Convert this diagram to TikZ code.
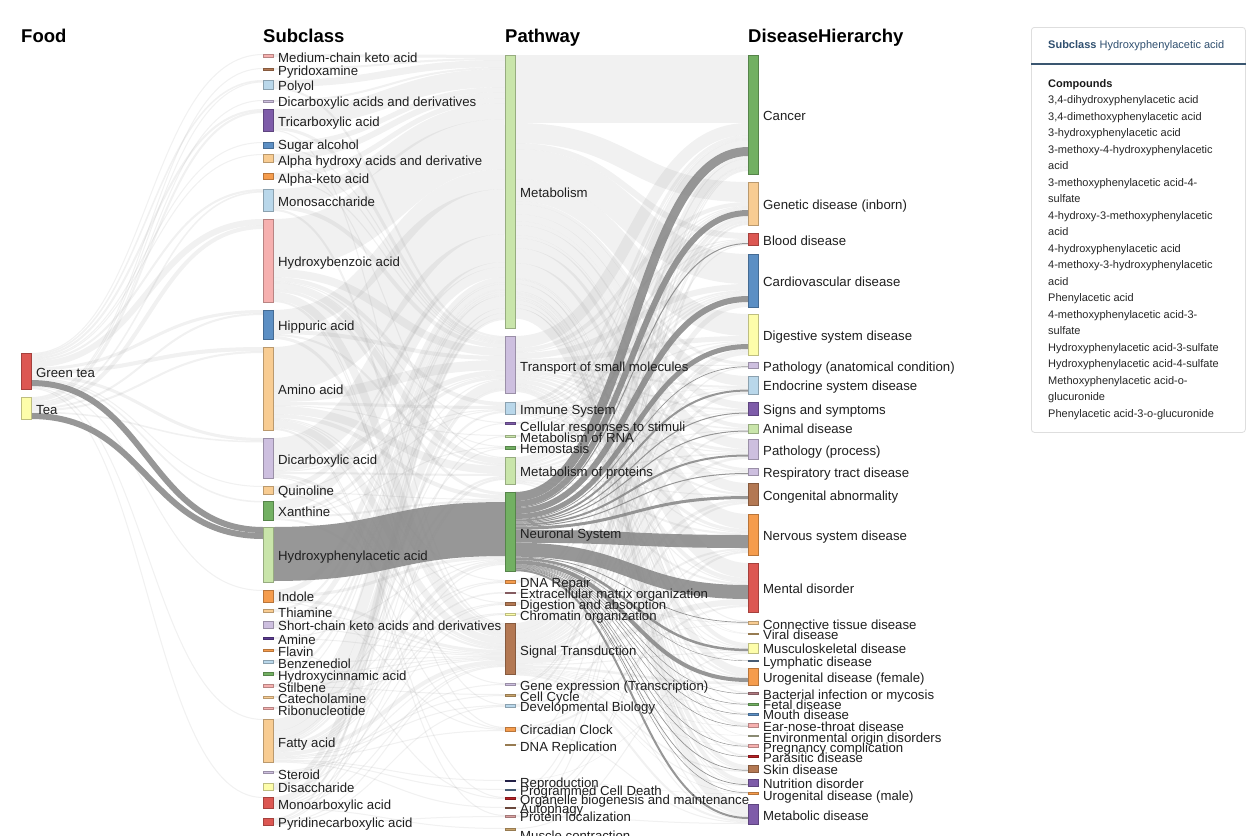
\documentclass[tikz,border=0pt]{standalone}
\usepackage{fontspec}
\setmainfont{Liberation Sans}
\pgfdeclarelayer{front}
\pgfsetlayers{main,front}
\definecolor{cLB}{HTML}{B9D7EA}
\definecolor{cBL}{HTML}{5C8FC4}
\definecolor{cLG}{HTML}{C9E5AA}
\definecolor{cGR}{HTML}{72B062}
\definecolor{cPK}{HTML}{F6B0AF}
\definecolor{cRD}{HTML}{DC5752}
\definecolor{cLO}{HTML}{F8CC92}
\definecolor{cOR}{HTML}{F59C4D}
\definecolor{cLP}{HTML}{CDBFDF}
\definecolor{cPU}{HTML}{7E5CA9}
\definecolor{cYE}{HTML}{FDFDAA}
\definecolor{cBR}{HTML}{B37853}
\definecolor{cTN}{HTML}{C9A46C}
\definecolor{cSL}{HTML}{5D7A9B}
\definecolor{cNV}{HTML}{2E2A5E}
\definecolor{cDR}{HTML}{B52024}
\definecolor{cMV}{HTML}{B07A80}
\definecolor{cDP}{HTML}{5B3A92}
\definecolor{cAB}{HTML}{8E5F4F}
\definecolor{cPL}{HTML}{D9A0A0}
\definecolor{cEV}{HTML}{B8B89A}
\definecolor{panelhd}{HTML}{2F4F6F}
\definecolor{panelln}{HTML}{3A5670}
\tikzset{
  sk/.style={rectangle, line width=0.6pt, minimum width=10pt, inner sep=0pt, outer sep=0pt},
  lab/.style={anchor=west, inner sep=0pt, font=\fontsize{13.2}{15}\selectfont, text height=9.4pt, text depth=0pt, text=black!88},
  hd/.style={anchor=base west, inner sep=0pt, font=\fontsize{18.5}{22}\selectfont\bfseries},
  lt/.style={draw=black!45, draw opacity=0.12},
  dk/.style={draw=black!48, draw opacity=0.85},
  ptx/.style={anchor=west, inner sep=0pt, font=\fontsize{11}{13}\selectfont, text height=7.9pt, text depth=0pt, text=black!85},
}
% node: name, x, ytop, ybot, colour, label, label y
\newcommand\SK[7]{%
  \expandafter\xdef\csname skx-#1\endcsname{#2}%
  \expandafter\xdef\csname sko-#1\endcsname{#3}%
  \expandafter\xdef\csname ski-#1\endcsname{#3}%
  \begin{pgfonlayer}{front}
    \node[sk, fill=#5, draw=#5!75!black, minimum height={(#4)-(#3)}, anchor=north west] (#1) at (#2,#3) {};
    \node[lab] (#1-l) at ({#2+15},#7) {#6};
  \end{pgfonlayer}}
% link: source, target, width, style
\newcommand\LK[4]{%
  \expandafter\let\expandafter\lkXa\csname skx-#1\endcsname
  \expandafter\let\expandafter\lkXb\csname skx-#2\endcsname
  \expandafter\let\expandafter\lkYa\csname sko-#1\endcsname
  \expandafter\let\expandafter\lkYb\csname ski-#2\endcsname
  \pgfmathsetmacro\la{\lkXa+10}%
  \pgfmathsetmacro\lb{\lkXb}%
  \pgfmathsetmacro\lm{(\la+\lb)/2}%
  \pgfmathsetmacro\sa{\lkYa+#3/2}%
  \pgfmathsetmacro\ta{\lkYb+#3/2}%
  \pgfmathsetmacro\sn{\lkYa+#3}%
  \pgfmathsetmacro\tn{\lkYb+#3}%
  \expandafter\xdef\csname sko-#1\endcsname{\sn}%
  \expandafter\xdef\csname ski-#2\endcsname{\tn}%
  \draw[#4, line width=#3pt] (\la,\sa) .. controls (\lm,\sa) and (\lm,\ta) .. (\lb,\ta);}
\newcommand\LKs[3]{\foreach \lkT/\lkW in {#3}{\LK{#1}{\lkT}{\lkW}{#2}}}
\begin{document}
\begin{tikzpicture}[x=1pt,y=-1pt]
\fill[white] (0,0) rectangle (1254,836);
\useasboundingbox (0,0) rectangle (1254,836);
% headers
\node[hd] (hFood) at (21,42.5) {Food};
\node[hd] (hSub) at (263,42.5) {Subclass};
\node[hd] (hPath) at (505,42.5) {Pathway};
\node[hd] (hDis) at (748,42.5) {DiseaseHierarchy};
% food
\SK{GT}{21}{353}{389}{cRD}{Green tea}{373}
\SK{Tea}{21}{397}{419}{cYE}{Tea}{410}
% subclass
\SK{MC}{263}{54}{57}{cPK}{Medium-chain keto acid}{58}
\SK{Pyr}{263}{68}{70}{cBR}{Pyridoxamine}{71}
\SK{Pol}{263}{80}{89}{cLB}{Polyol}{86}
\SK{DCD}{263}{100}{102}{cLP}{Dicarboxylic acids and derivatives}{101.5}
\SK{Tric}{263}{109}{131}{cPU}{Tricarboxylic acid}{122}
\SK{SugA}{263}{142}{148}{cBL}{Sugar alcohol}{145}
\SK{AHA}{263}{154}{162}{cLO}{Alpha hydroxy acids and derivative}{161}
\SK{AKA}{263}{173}{179}{cOR}{Alpha-keto acid}{179}
\SK{Mono}{263}{189}{211}{cLB}{Monosaccharide}{202}
\SK{HB}{263}{219}{302}{cPK}{Hydroxybenzoic acid}{262}
\SK{Hipp}{263}{310}{339}{cBL}{Hippuric acid}{326}
\SK{Amino}{263}{347}{430}{cLO}{Amino acid}{390}
\SK{DCA}{263}{438}{478}{cLP}{Dicarboxylic acid}{460}
\SK{Quin}{263}{486}{494}{cLO}{Quinoline}{491}
\SK{Xan}{263}{501}{520}{cGR}{Xanthine}{512}
\SK{HPA}{263}{527}{582}{cLG}{Hydroxyphenylacetic acid}{556}
\SK{Ind}{263}{590}{602}{cOR}{Indole}{597}
\SK{Thia}{263}{609}{612}{cLO}{Thiamine}{613}
\SK{Short}{263}{621}{628}{cLP}{Short-chain keto acids and derivatives}{626}
\SK{Amine}{263}{637}{639}{cDP}{Amine}{640}
\SK{Flav}{263}{649}{651}{cOR}{Flavin}{652}
\SK{Benz}{263}{660}{663}{cLB}{Benzenediol}{664}
\SK{HCA}{263}{672}{675}{cGR}{Hydroxycinnamic acid}{675.5}
\SK{Stil}{263}{684}{687}{cPK}{Stilbene}{687.5}
\SK{Cat}{263}{696}{698}{cLO}{Catecholamine}{699}
\SK{Ribo}{263}{707}{709}{cPK}{Ribonucleotide}{711}
\SK{FA}{263}{719}{762}{cLO}{Fatty acid}{743}
\SK{Ster}{263}{771}{773}{cLP}{Steroid}{775}
\SK{Disac}{263}{783}{790}{cYE}{Disaccharide}{788}
\SK{Monoa}{263}{797}{808}{cRD}{Monoarboxylic acid}{805}
\SK{Pyrc}{263}{818}{825}{cRD}{Pyridinecarboxylic acid}{823}
% pathway
\SK{Met}{505}{55}{328}{cLG}{Metabolism}{193}
\SK{Trans}{505}{336}{393}{cLP}{Transport of small molecules}{367}
\SK{Imm}{505}{402}{414}{cLB}{Immune System}{410}
\SK{Cell}{505}{422}{424}{cPU}{Cellular responses to stimuli}{427}
\SK{RNA}{505}{435}{437}{cLG}{Metabolism of RNA}{438}
\SK{Hemo}{505}{446}{449}{cGR}{Hemostasis}{449}
\SK{MProt}{505}{457}{484}{cLG}{Metabolism of proteins}{472}
\SK{Neur}{505}{492}{571}{cGR}{Neuronal System}{534}
\SK{DNAR}{505}{580}{583}{cOR}{DNA Repair}{583}
\SK{ECM}{505}{592}{593.5}{cMV}{Extracellular matrix organization}{594}
\SK{Dig}{505}{602}{605}{cBR}{Digestion and absorption}{605}
\SK{Chrom}{505}{613}{615}{cYE}{Chromatin organization}{616}
\SK{Sig}{505}{623}{674}{cBR}{Signal Transduction}{651}
\SK{Gene}{505}{683}{685}{cLP}{Gene expression (Transcription)}{686}
\SK{CellC}{505}{694}{696}{cTN}{Cell Cycle}{697}
\SK{Dev}{505}{704}{707}{cLB}{Developmental Biology}{707}
\SK{Circ}{505}{727}{731}{cOR}{Circadian Clock}{730}
\SK{DRep}{505}{744}{745}{cTN}{DNA Replication}{747}
\SK{Repro}{505}{780}{781}{cNV}{Reproduction}{783}
\SK{PCD}{505}{789}{790}{cSL}{Programmed Cell Death}{791}
\SK{Org}{505}{797}{799}{cDR}{Organelle biogenesis and maintenance}{800}
\SK{Auto}{505}{807}{808}{cAB}{Autophagy}{809}
\SK{ProtL}{505}{815}{817}{cPL}{Protein localization}{817}
\SK{MusC}{505}{828}{830}{cTN}{Muscle contraction}{836}
% disease
\SK{Cancer}{748}{55}{174}{cGR}{Cancer}{116}
\SK{Gen}{748}{182}{225}{cLO}{Genetic disease (inborn)}{205}
\SK{Blood}{748}{233}{245}{cRD}{Blood disease}{241}
\SK{Cardio}{748}{254}{307}{cBL}{Cardiovascular disease}{282}
\SK{Digs}{748}{314}{355}{cYE}{Digestive system disease}{336}
\SK{PAn}{748}{362}{368}{cLP}{Pathology (anatomical condition)}{367}
\SK{Endo}{748}{376}{394}{cLB}{Endocrine system disease}{386}
\SK{Signs}{748}{402}{415}{cPU}{Signs and symptoms}{410}
\SK{Anim}{748}{424}{433}{cLG}{Animal disease}{429}
\SK{PPr}{748}{439}{459}{cLP}{Pathology (process)}{451}
\SK{Resp}{748}{468}{475}{cLP}{Respiratory tract disease}{473}
\SK{Cong}{748}{483}{505}{cBR}{Congenital abnormality}{496}
\SK{Nerv}{748}{514}{555}{cOR}{Nervous system disease}{536}
\SK{Ment}{748}{563}{612}{cRD}{Mental disorder}{589}
\SK{Conn}{748}{621}{624}{cLO}{Connective tissue disease}{624.5}
\SK{Viral}{748}{633}{634}{cTN}{Viral disease}{635}
\SK{Musc}{748}{643}{653}{cYE}{Musculoskeletal disease}{648.5}
\SK{Lymph}{748}{660}{661}{cSL}{Lymphatic disease}{662}
\SK{UroF}{748}{668}{685}{cOR}{Urogenital disease (female)}{678}
\SK{Bact}{748}{692}{694}{cMV}{Bacterial infection or mycosis}{694.5}
\SK{Fetal}{748}{703}{705}{cGR}{Fetal disease}{704.5}
\SK{Mouth}{748}{713}{715}{cBL}{Mouth disease}{715}
\SK{ENT}{748}{723}{727}{cPK}{Ear-nose-throat disease}{727}
\SK{Env}{748}{735}{736}{cEV}{Environmental origin disorders}{738}
\SK{Preg}{748}{744}{747}{cPK}{Pregnancy complication}{747.5}
\SK{Paras}{748}{755}{757}{cDR}{Parasitic disease}{758}
\SK{Skin}{748}{765}{772}{cBR}{Skin disease}{770}
\SK{Nutr}{748}{779}{786}{cPU}{Nutrition disorder}{784}
\SK{UroM}{748}{792}{794}{cOR}{Urogenital disease (male)}{796}
\SK{Metab}{748}{804}{824}{cPU}{Metabolic disease}{816}
% ---- food -> subclass
\LKs{GT}{lt}{MC/1,Pol/1.5,Tric/2,SugA/1,AHA/1,Mono/2,HB/6,Hipp/3,Amino/4,DCA/3,Quin/1,Xan/1.5}
\LK{GT}{HPA}{6}{dk}
\LKs{GT}{lt}{Ind/1,FA/1,Monoa/1}
\LKs{Tea}{lt}{Pyr/1,Pol/1,DCD/1,Tric/2,Mono/1.5,HB/4,Hipp/2,Amino/2,DCA/1.5}
\LK{Tea}{HPA}{6}{dk}
% ---- subclass -> pathway
\LKs{MC}{lt}{Met/3}
\LKs{Pyr}{lt}{Met/2}
\LKs{Pol}{lt}{Met/7,Trans/2}
\LKs{DCD}{lt}{Met/2}
\LKs{Tric}{lt}{Met/18,Trans/3,Sig/1}
\LKs{SugA}{lt}{Met/5,Trans/1}
\LKs{AHA}{lt}{Met/6,Trans/1,MProt/1}
\LKs{AKA}{lt}{Met/5,Trans/1}
\LKs{Mono}{lt}{Met/16,Trans/4,Sig/2}
\LKs{HB}{lt}{Met/50,Trans/8,Imm/4,Cell/1,Hemo/1,MProt/6,Neur/3,Sig/8,Dev/1,Circ/1}
\LKs{Hipp}{lt}{Met/20,Trans/4,MProt/2,Sig/3}
\LKs{Amino}{lt}{Met/45,Trans/10,Imm/3,RNA/1,MProt/8,Neur/4,DNAR/1,Dig/1,Sig/7,Gene/1,Org/1,ProtL/1}
\LKs{DCA}{lt}{Met/28,Trans/5,Imm/1,MProt/2,Sig/3,Circ/1}
\LKs{Quin}{lt}{Met/5,Trans/1,Neur/1,Sig/1}
\LKs{Xan}{lt}{Met/10,Trans/3,Imm/1,Hemo/1,Neur/2,Sig/2}
\LK{HPA}{Neur}{54}{dk}
\LKs{Ind}{lt}{Met/5,Neur/3,Sig/3,Circ/1}
\LKs{Thia}{lt}{Met/2,Sig/1}
\LKs{Short}{lt}{Met/5,Trans/1,Sig/1}
\LKs{Amine}{lt}{Neur/1,Sig/1}
\LKs{Flav}{lt}{Met/1,Org/1}
\LKs{Benz}{lt}{Met/2,Sig/1}
\LKs{HCA}{lt}{Met/2,Sig/1}
\LKs{Stil}{lt}{Met/1,Sig/1,CellC/1}
\LKs{Cat}{lt}{Neur/1,Sig/1}
\LKs{Ribo}{lt}{Met/1,DNAR/1}
\LKs{FA}{lt}{Met/12,Trans/8,Imm/2,Cell/1,Hemo/1,MProt/2,Neur/3,DNAR/1,ECM/1.5,Dig/1,Chrom/1,Sig/4,CellC/1,Dev/1,Circ/1,Repro/1,PCD/1,Auto/1}
\LKs{Ster}{lt}{Sig/1,Gene/1}
\LKs{Disac}{lt}{Met/5,Trans/1,Dig/1}
\LKs{Monoa}{lt}{Met/5,Trans/2,MProt/1,Neur/1,Chrom/1,Sig/1,MusC/1}
\LKs{Pyrc}{lt}{Met/2,RNA/1,MProt/1,Sig/1,Dev/1,ProtL/1}
% ---- pathway -> disease
\LKs{Met}{lt}{Cancer/68,Gen/20,Blood/6,Cardio/30,Digs/22,PAn/3,Endo/10,Signs/7,Anim/4,PPr/10,Resp/3,Cong/10,Nerv/15,Ment/15,Conn/1,Viral/0.5,Musc/4,Lymph/0.6,UroF/7,Bact/1.5,Fetal/1,Mouth/1,ENT/2,Env/0.5,Preg/1.5,Paras/1.5,Skin/4,Nutr/4,UroM/0.5,Metab/10}
\LKs{Trans}{lt}{Cancer/12,Gen/4,Blood/1,Cardio/6,Digs/5,PAn/1,Endo/2,Signs/2,Anim/1.5,PPr/3,Resp/1,Cong/2,Nerv/3,Ment/4,Viral/0.5,Musc/1,UroF/2,ENT/0.5,Preg/0.5,Skin/1,Nutr/1,Metab/2}
\LKs{Imm}{lt}{Cancer/3,Gen/1,Blood/1,Cardio/1.5,Digs/1,Endo/0.5,Signs/0.5,PPr/1,Resp/0.5,Nerv/1,Ment/1,ENT/0.5}
\LKs{Cell}{lt}{Cancer/1,Cardio/1}
\LKs{RNA}{lt}{Cancer/1,Gen/1}
\LKs{Hemo}{lt}{Blood/1.5,Cardio/1.5}
\LKs{MProt}{lt}{Cancer/7,Gen/2,Blood/0.5,Cardio/2,Digs/2,PAn/0.3,Endo/1,Signs/1,Anim/1,PPr/1.5,Resp/0.5,Cong/1,Nerv/2,Ment/2,Musc/0.7,UroF/1,Nutr/0.3,Metab/1}
\LKs{Neur}{dk}{Cancer/9,Gen/6,Blood/1,Cardio/6,Digs/5,PAn/0.7,Endo/2,Signs/1,Anim/1,PPr/2,Resp/1,Cong/3,Nerv/13,Ment/14,Conn/0.7,Musc/2.5,Lymph/0.4,UroF/4,Bact/0.5,Fetal/0.5,Mouth/0.5,ENT/0.5,Preg/0.5,Paras/0.5,Skin/0.7,Nutr/0.7,UroM/0.5,Metab/2}
\LKs{DNAR}{lt}{Cancer/2,Gen/1}
\LKs{ECM}{lt}{Conn/0.7,Musc/0.8}
\LKs{Dig}{lt}{Digs/2,Metab/1}
\LKs{Chrom}{lt}{Cancer/1,Gen/1}
\LKs{Sig}{lt}{Cancer/7,Gen/3,Blood/1,Cardio/5,Digs/4,PAn/1,Endo/2.5,Signs/1.5,Anim/1.5,PPr/2.5,Resp/1,Cong/3,Nerv/2,Ment/6,Conn/0.6,Musc/1,UroF/2.5,Fetal/0.5,Mouth/0.5,ENT/0.5,Env/0.5,Preg/0.5,Skin/1.3,Nutr/1,UroM/0.5,Metab/2}
\LKs{Gene}{lt}{Cancer/1,Gen/1}
\LKs{CellC}{lt}{Cancer/2}
\LKs{Dev}{lt}{Gen/1,Cong/2}
\LKs{Circ}{lt}{Nerv/1,Ment/2,Metab/1}
\LKs{DRep}{lt}{Cancer/1}
\LKs{Repro}{lt}{UroF/0.5,UroM/0.5}
\LKs{PCD}{lt}{Cancer/1}
\LKs{Org}{lt}{Gen/1,Nerv/1}
\LKs{Auto}{lt}{Nerv/1}
\LKs{ProtL}{lt}{Gen/1,Metab/1}
\LKs{MusC}{lt}{Musc/1}
% ---- side panel
\node[draw=black!13, line width=0.8pt, rounded corners=3pt, minimum width=214pt, minimum height=405pt, anchor=north west, inner sep=0pt] (panel) at (1031,27) {};
\node[ptx, text=panelhd] (ptitle) at (1048,45) {\textbf{Subclass} Hydroxyphenylacetic acid};
\draw[panelln, line width=1.5pt] (panel.west |- 0,64) -- (panel.east |- 0,64);
\node[ptx, text=black!90] (pc) at (1048,84) {\textbf{Compounds}};
\foreach \yy/\tx [count=\i] in {
 100/{3,4-dihydroxyphenylacetic acid},
 116.5/{3,4-dimethoxyphenylacetic acid},
 133/{3-hydroxyphenylacetic acid},
 149.5/{3-methoxy-4-hydroxyphenylacetic},
 166/{acid},
 182.5/{3-methoxyphenylacetic acid-4-},
 199/{sulfate},
 215.5/{4-hydroxy-3-methoxyphenylacetic},
 232/{acid},
 248.5/{4-hydroxyphenylacetic acid},
 265/{4-methoxy-3-hydroxyphenylacetic},
 281.5/{acid},
 298/{Phenylacetic acid},
 314.5/{4-methoxyphenylacetic acid-3-},
 331/{sulfate},
 347.5/{Hydroxyphenylacetic acid-3-sulfate},
 364/{Hydroxyphenylacetic acid-4-sulfate},
 380.5/{Methoxyphenylacetic acid-o-},
 397/{glucuronide},
 413.5/{Phenylacetic acid-3-o-glucuronide}}
 {\node[ptx] (pl\i) at (1048,\yy) {\tx};}
\end{tikzpicture}
\end{document}
